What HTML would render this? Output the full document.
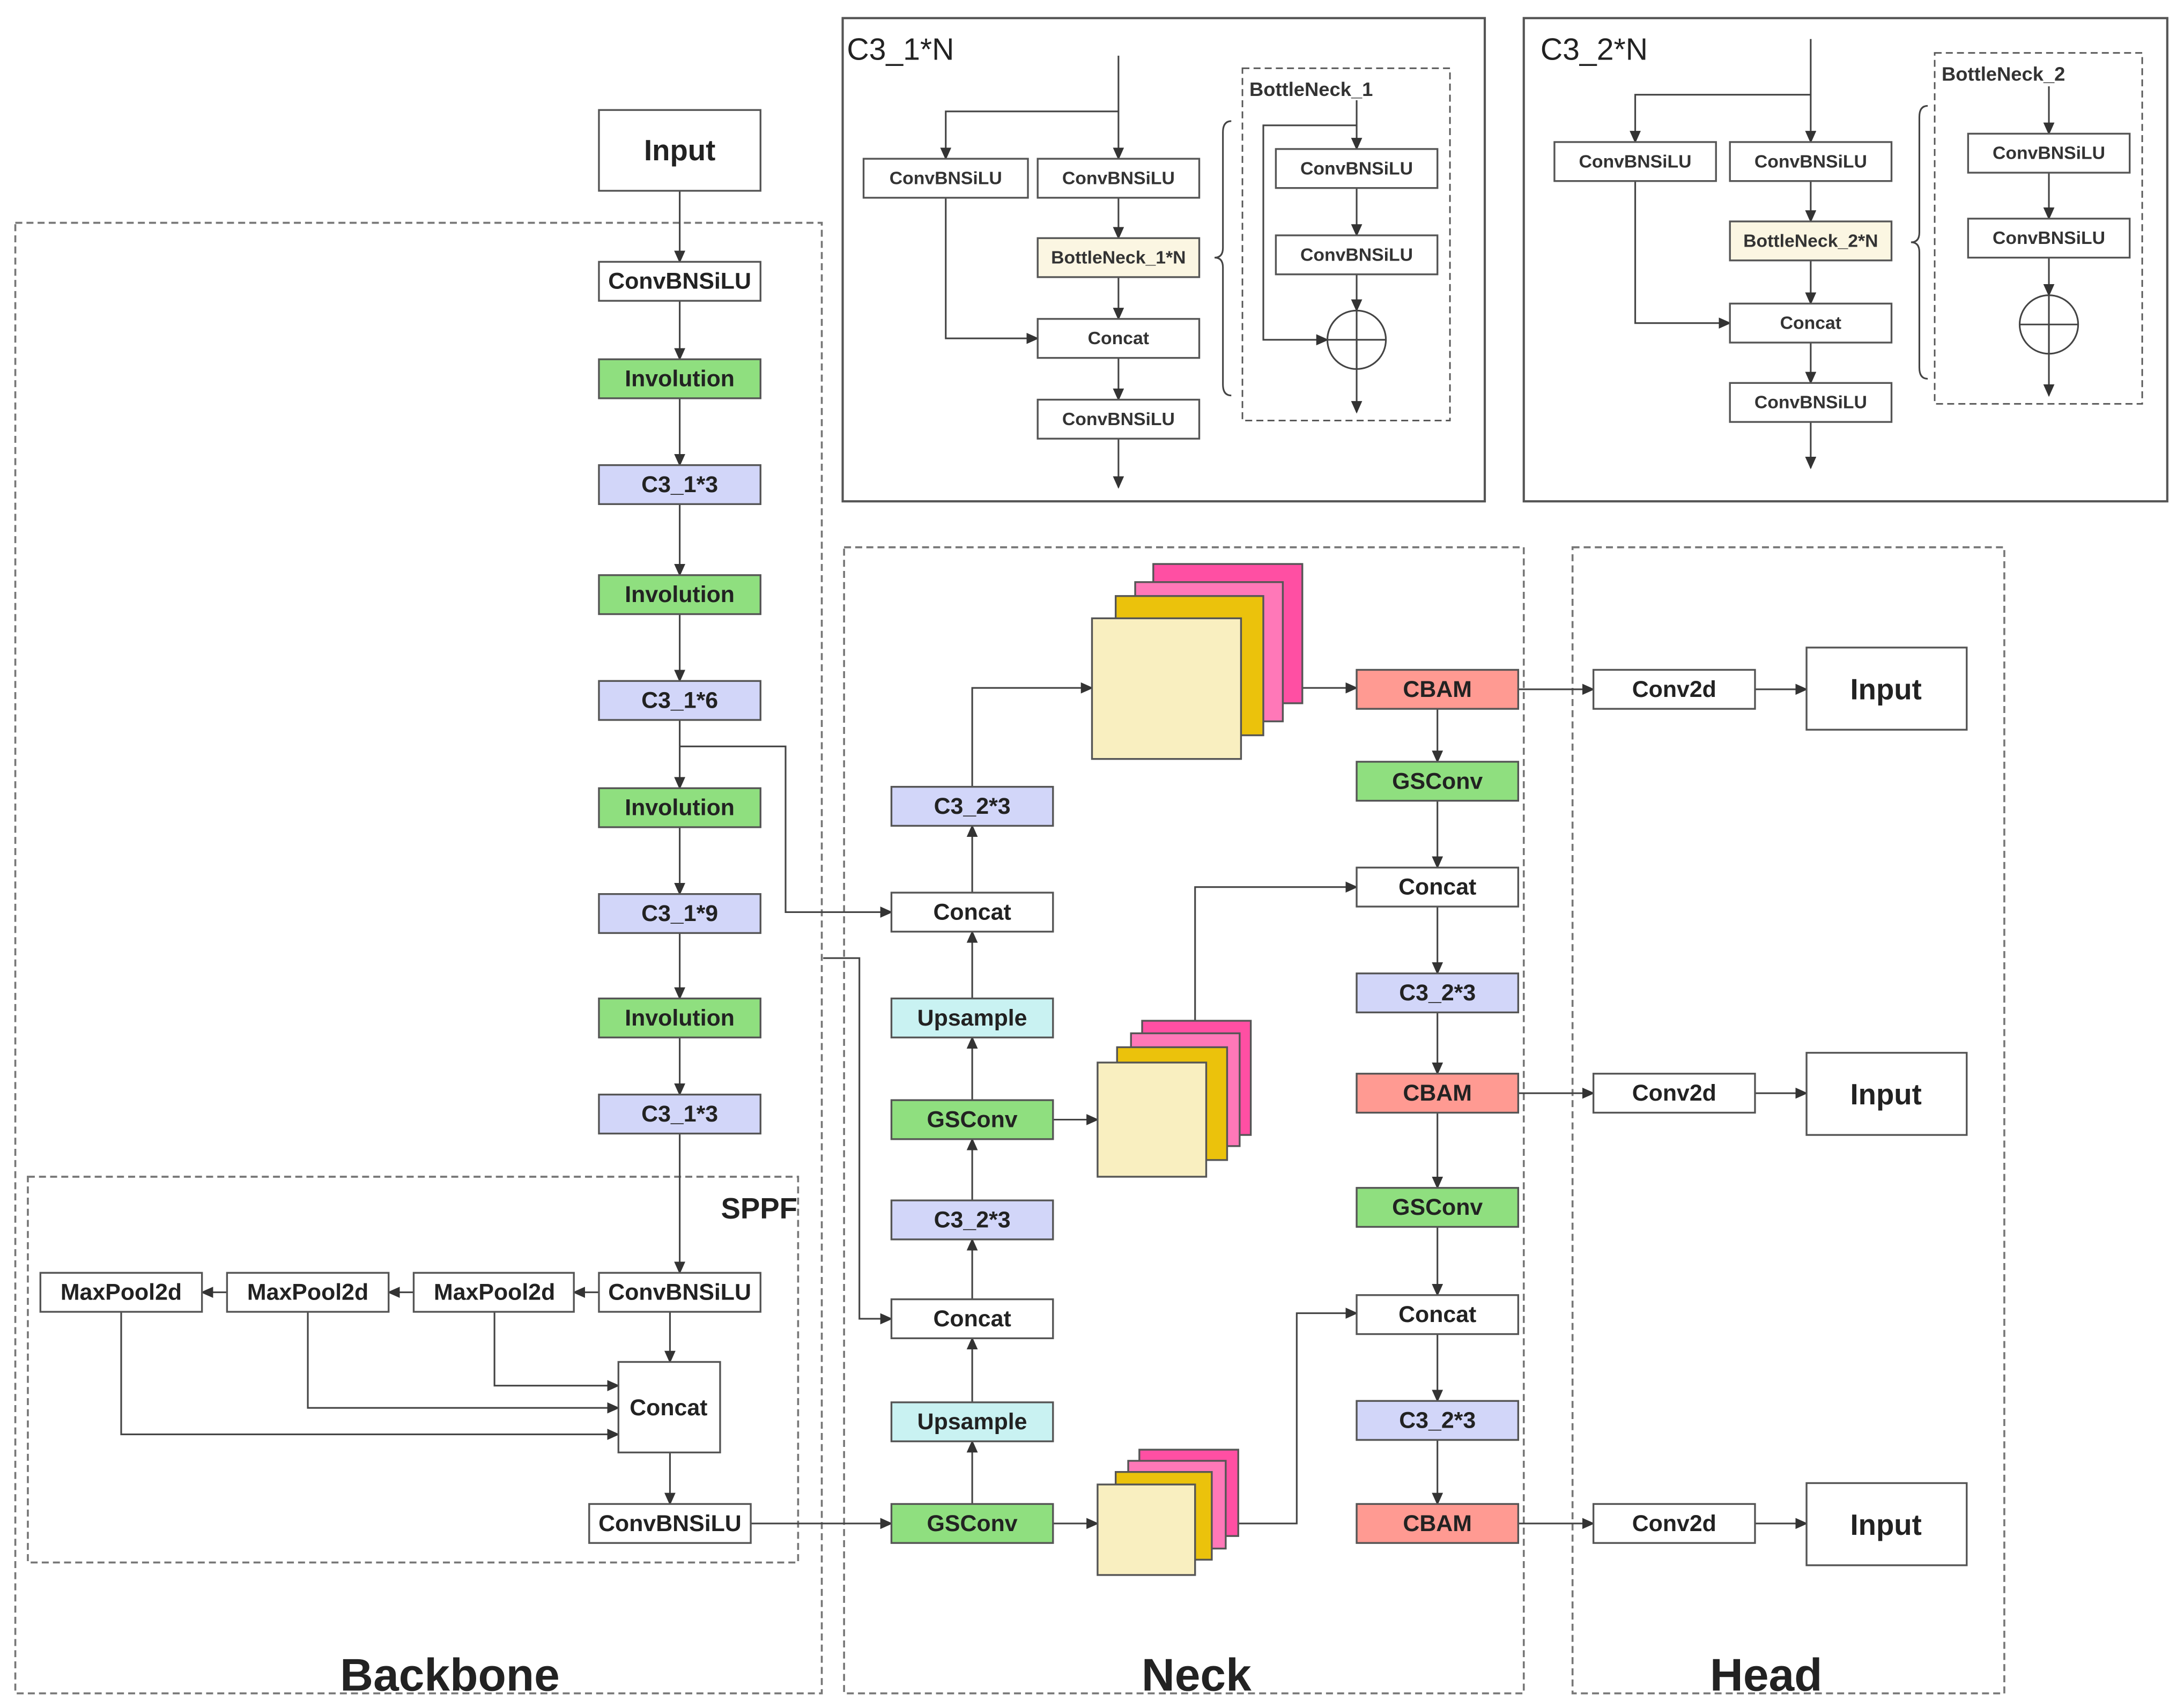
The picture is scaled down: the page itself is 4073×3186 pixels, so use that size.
<!DOCTYPE html>
<html><head><meta charset="utf-8"><style>
html,body{margin:0;padding:0;background:#fff}
svg{display:block}
text{font-family:"Liberation Sans",sans-serif;fill:#222}
.b{stroke:#555;stroke-width:1.3}
.t{font-size:16.5px;font-weight:bold;text-anchor:middle;dominant-baseline:central}
.s{font-size:13px;font-weight:bold;text-anchor:middle;dominant-baseline:central;fill:#333}
.l{stroke:#444;stroke-width:1.2;fill:none}
.a path,path.a{stroke:#444;stroke-width:1.2;fill:none;marker-end:url(#ar)}
.d{stroke:#777;stroke-width:1.4;fill:none;stroke-dasharray:5 3}
.h{font-size:33px;font-weight:bold;text-anchor:middle}
</style></head><body>
<svg width="4073" height="3186" viewBox="0 0 1568 1226.5" preserveAspectRatio="none" xmlns="http://www.w3.org/2000/svg">
<defs><marker id="ar" markerUnits="userSpaceOnUse" markerWidth="9" markerHeight="8" refX="8" refY="4" orient="auto"><path d="M0,0 L9,4 L0,8 z" fill="#333"/></marker></defs>
<rect width="1568" height="1226.5" fill="#fff"/>

<rect class="d" x="11" y="160" width="579" height="1056"/>
<rect class="d" x="20" y="845" width="553" height="277"/>
<rect class="d" x="606" y="393" width="488" height="823"/>
<rect class="d" x="1129" y="393" width="310" height="823"/>
<text class="h" x="323" y="1214">Backbone</text>
<text class="h" x="859" y="1214">Neck</text>
<text class="h" x="1268" y="1214">Head</text>
<text x="545" y="875" style="font-size:21px;font-weight:bold;text-anchor:middle">SPPF</text>

<g class="a">
<path d="M488,137V188"/><path d="M488,216V258"/><path d="M488,286V334"/><path d="M488,362V413"/><path d="M488,441V489"/><path d="M488,517V566"/><path d="M488,594V642"/><path d="M488,670V717"/><path d="M488,745V786"/><path d="M488,814V914"/>
<path d="M430,928H412"/><path d="M297,928H279"/><path d="M163,928H145"/><path d="M481,942V978"/><path d="M355,942V995H444"/><path d="M221,942V1011H444"/><path d="M87,942V1030H444"/><path d="M481,1043V1080"/><path d="M539,1094H640"/>
<path d="M488,536H564V655H640"/><path d="M591,688H617V947H640"/>
<path d="M698,1080V1035"/><path d="M698,1007V961"/><path d="M698,933V890"/><path d="M698,862V818"/><path d="M698,790V745"/><path d="M698,717V669"/><path d="M698,641V593"/><path d="M698,565V494H784"/>
<path d="M756,804H788"/><path d="M756,1094H788"/><path d="M858,733V637H974"/><path d="M889,1094H931V943H974"/><path d="M935,494H974"/>
<path d="M1032,509V547"/><path d="M1032,575V623"/><path d="M1032,651V699"/><path d="M1032,727V771"/><path d="M1032,799V853"/><path d="M1032,881V930"/><path d="M1032,958V1006"/><path d="M1032,1034V1080"/>
<path d="M1090,495H1144"/><path d="M1090,785H1144"/><path d="M1090,1094H1144"/><path d="M1260,495H1297"/><path d="M1260,785H1297"/><path d="M1260,1094H1297"/>
<path d="M803,40V114"/><path d="M803,80H679V114"/><path d="M803,142V171"/><path d="M803,199V229"/><path d="M803,257V287"/><path d="M803,315V350"/><path d="M679,142V243H745"/>
<path d="M974,72V107"/><path d="M974,135V169"/><path d="M974,197V223"/><path d="M974,244V296"/><path d="M974,90H907V244H953"/>
<path d="M1300,28V102"/><path d="M1300,68H1174V102"/><path d="M1300,130V159"/><path d="M1300,187V218"/><path d="M1300,246V275"/><path d="M1300,303V336"/><path d="M1174,130V232H1242"/>
<path d="M1471,62V96"/><path d="M1471,124V157"/><path d="M1471,185V212"/><path d="M1471,233V284"/>
</g>

<!-- backbone -->
<rect class="b" x="430" y="79" width="116" height="58" fill="#fff"/><text class="t" x="488" y="108" style="font-size:21px">Input</text>
<rect class="b" x="430" y="188" width="116" height="28" fill="#fff"/><text class="t" x="488" y="202">ConvBNSiLU</text>
<rect class="b" x="430" y="258" width="116" height="28" fill="#8fdf7f"/><text class="t" x="488" y="272">Involution</text>
<rect class="b" x="430" y="334" width="116" height="28" fill="#d2d6f9"/><text class="t" x="488" y="348">C3_1*3</text>
<rect class="b" x="430" y="413" width="116" height="28" fill="#8fdf7f"/><text class="t" x="488" y="427">Involution</text>
<rect class="b" x="430" y="489" width="116" height="28" fill="#d2d6f9"/><text class="t" x="488" y="503">C3_1*6</text>
<rect class="b" x="430" y="566" width="116" height="28" fill="#8fdf7f"/><text class="t" x="488" y="580">Involution</text>
<rect class="b" x="430" y="642" width="116" height="28" fill="#d2d6f9"/><text class="t" x="488" y="656">C3_1*9</text>
<rect class="b" x="430" y="717" width="116" height="28" fill="#8fdf7f"/><text class="t" x="488" y="731">Involution</text>
<rect class="b" x="430" y="786" width="116" height="28" fill="#d2d6f9"/><text class="t" x="488" y="800">C3_1*3</text>

<rect class="b" x="430" y="914" width="116" height="28" fill="#fff"/><text class="t" x="488" y="928">ConvBNSiLU</text>
<rect class="b" x="297" y="914" width="115" height="28" fill="#fff"/><text class="t" x="355" y="928">MaxPool2d</text>
<rect class="b" x="163" y="914" width="116" height="28" fill="#fff"/><text class="t" x="221" y="928">MaxPool2d</text>
<rect class="b" x="29" y="914" width="116" height="28" fill="#fff"/><text class="t" x="87" y="928">MaxPool2d</text>
<rect class="b" x="444" y="978" width="73" height="65" fill="#fff"/><text class="t" x="480" y="1011">Concat</text>
<rect class="b" x="423" y="1080" width="116" height="28" fill="#fff"/><text class="t" x="481" y="1094">ConvBNSiLU</text>

<!-- neck left column -->
<rect class="b" x="640" y="565" width="116" height="28" fill="#d2d6f9"/><text class="t" x="698" y="579">C3_2*3</text>
<rect class="b" x="640" y="641" width="116" height="28" fill="#fff"/><text class="t" x="698" y="655">Concat</text>
<rect class="b" x="640" y="717" width="116" height="28" fill="#c9f2f2"/><text class="t" x="698" y="731">Upsample</text>
<rect class="b" x="640" y="790" width="116" height="28" fill="#8fdf7f"/><text class="t" x="698" y="804">GSConv</text>
<rect class="b" x="640" y="862" width="116" height="28" fill="#d2d6f9"/><text class="t" x="698" y="876">C3_2*3</text>
<rect class="b" x="640" y="933" width="116" height="28" fill="#fff"/><text class="t" x="698" y="947">Concat</text>
<rect class="b" x="640" y="1007" width="116" height="28" fill="#c9f2f2"/><text class="t" x="698" y="1021">Upsample</text>
<rect class="b" x="640" y="1080" width="116" height="28" fill="#8fdf7f"/><text class="t" x="698" y="1094">GSConv</text>

<g class="b">
<rect x="828" y="405" width="107" height="100" fill="#ff4fa3"/>
<rect x="815" y="418" width="106" height="100" fill="#ff78b8"/>
<rect x="801" y="428" width="106" height="100" fill="#ebc20c"/>
<rect x="784" y="444" width="107" height="101" fill="#f9efc0"/>
<rect x="820" y="733" width="78" height="82" fill="#ff4fa3"/>
<rect x="812" y="742" width="78" height="81" fill="#ff78b8"/>
<rect x="802" y="752" width="79" height="81" fill="#ebc20c"/>
<rect x="788" y="763" width="78" height="82" fill="#f9efc0"/>
<rect x="818" y="1041" width="71" height="62" fill="#ff4fa3"/>
<rect x="810" y="1049" width="70" height="63" fill="#ff78b8"/>
<rect x="801" y="1057" width="69" height="63" fill="#ebc20c"/>
<rect x="788" y="1066" width="70" height="65" fill="#f9efc0"/>
</g>

<!-- neck right column -->
<rect class="b" x="974" y="481" width="116" height="28" fill="#ff9a92"/><text class="t" x="1032" y="495">CBAM</text>
<rect class="b" x="974" y="547" width="116" height="28" fill="#8fdf7f"/><text class="t" x="1032" y="561">GSConv</text>
<rect class="b" x="974" y="623" width="116" height="28" fill="#fff"/><text class="t" x="1032" y="637">Concat</text>
<rect class="b" x="974" y="699" width="116" height="28" fill="#d2d6f9"/><text class="t" x="1032" y="713">C3_2*3</text>
<rect class="b" x="974" y="771" width="116" height="28" fill="#ff9a92"/><text class="t" x="1032" y="785">CBAM</text>
<rect class="b" x="974" y="853" width="116" height="28" fill="#8fdf7f"/><text class="t" x="1032" y="867">GSConv</text>
<rect class="b" x="974" y="930" width="116" height="28" fill="#fff"/><text class="t" x="1032" y="944">Concat</text>
<rect class="b" x="974" y="1006" width="116" height="28" fill="#d2d6f9"/><text class="t" x="1032" y="1020">C3_2*3</text>
<rect class="b" x="974" y="1080" width="116" height="28" fill="#ff9a92"/><text class="t" x="1032" y="1094">CBAM</text>

<!-- head -->
<rect class="b" x="1144" y="481" width="116" height="28" fill="#fff"/><text class="t" x="1202" y="495">Conv2d</text>
<rect class="b" x="1144" y="771" width="116" height="28" fill="#fff"/><text class="t" x="1202" y="785">Conv2d</text>
<rect class="b" x="1144" y="1080" width="116" height="28" fill="#fff"/><text class="t" x="1202" y="1094">Conv2d</text>
<rect class="b" x="1297" y="465" width="115" height="59" fill="#fff"/><text class="t" x="1354" y="495" style="font-size:21px">Input</text>
<rect class="b" x="1297" y="756" width="115" height="59" fill="#fff"/><text class="t" x="1354" y="786" style="font-size:21px">Input</text>
<rect class="b" x="1297" y="1065" width="115" height="59" fill="#fff"/><text class="t" x="1354" y="1095" style="font-size:21px">Input</text>

<!-- C3_1*N -->
<rect x="605" y="13" width="461" height="347" fill="none" stroke="#555" stroke-width="1.6"/>
<text x="608" y="43" style="font-size:22px">C3_1*N</text>
<rect class="b" x="620" y="114" width="118" height="28" fill="#fff"/><text class="s" x="679" y="128">ConvBNSiLU</text>
<rect class="b" x="745" y="114" width="116" height="28" fill="#fff"/><text class="s" x="803" y="128">ConvBNSiLU</text>
<rect class="b" x="745" y="171" width="116" height="28" fill="#fbf6e2"/><text class="s" x="803" y="185">BottleNeck_1*N</text>
<rect class="b" x="745" y="229" width="116" height="28" fill="#fff"/><text class="s" x="803" y="243">Concat</text>
<rect class="b" x="745" y="287" width="116" height="28" fill="#fff"/><text class="s" x="803" y="301">ConvBNSiLU</text>
<path class="l" d="M884,87 Q878,87 878,95 V178 Q878,185 872,185 Q878,185 878,192 V276 Q878,284 884,284"/>
<rect class="d" x="892" y="49" width="149" height="253" style="stroke:#555;stroke-width:1.1"/>
<text x="897" y="69" style="font-size:14px;font-weight:bold;fill:#333">BottleNeck_1</text>
<rect class="b" x="916" y="107" width="116" height="28" fill="#fff"/><text class="s" x="974" y="121">ConvBNSiLU</text>
<rect class="b" x="916" y="169" width="116" height="28" fill="#fff"/><text class="s" x="974" y="183">ConvBNSiLU</text>
<ellipse cx="974" cy="244" rx="21" ry="21" fill="none" stroke="#444" stroke-width="1.2"/>
<path class="l" d="M953,244H995 M974,223V265"/>

<!-- C3_2*N -->
<rect x="1094" y="13" width="462" height="347" fill="none" stroke="#555" stroke-width="1.6"/>
<text x="1106" y="43" style="font-size:22px">C3_2*N</text>
<rect class="b" x="1116" y="102" width="116" height="28" fill="#fff"/><text class="s" x="1174" y="116">ConvBNSiLU</text>
<rect class="b" x="1242" y="102" width="116" height="28" fill="#fff"/><text class="s" x="1300" y="116">ConvBNSiLU</text>
<rect class="b" x="1242" y="159" width="116" height="28" fill="#fbf6e2"/><text class="s" x="1300" y="173">BottleNeck_2*N</text>
<rect class="b" x="1242" y="218" width="116" height="28" fill="#fff"/><text class="s" x="1300" y="232">Concat</text>
<rect class="b" x="1242" y="275" width="116" height="28" fill="#fff"/><text class="s" x="1300" y="289">ConvBNSiLU</text>
<path class="l" d="M1384,76 Q1378,76 1378,84 V167 Q1378,174 1372,174 Q1378,174 1378,181 V264 Q1378,272 1384,272"/>
<rect class="d" x="1389" y="38" width="149" height="252" style="stroke:#555;stroke-width:1.1"/>
<text x="1394" y="58" style="font-size:14px;font-weight:bold;fill:#333">BottleNeck_2</text>
<rect class="b" x="1413" y="96" width="116" height="28" fill="#fff"/><text class="s" x="1471" y="110">ConvBNSiLU</text>
<rect class="b" x="1413" y="157" width="116" height="28" fill="#fff"/><text class="s" x="1471" y="171">ConvBNSiLU</text>
<ellipse cx="1471" cy="233" rx="21" ry="21" fill="none" stroke="#444" stroke-width="1.2"/>
<path class="l" d="M1450,233H1492 M1471,212V254"/>
</svg>
</body></html>
